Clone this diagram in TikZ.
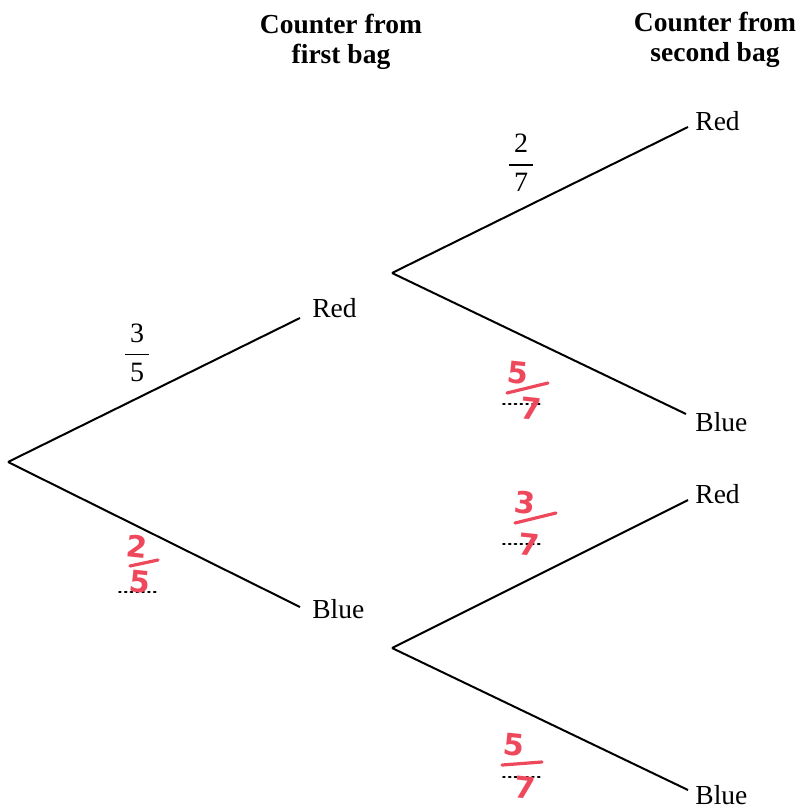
\documentclass[tikz,border=0pt]{standalone}
\usepackage{amsmath}
\usepackage{fontspec}
\setmainfont{Liberation Serif}
\newfontfamily\handfont{DejaVu Sans}
\begin{document}
\begin{tikzpicture}[x=0.5pt,y=-0.5pt,
  branch/.style={line width=1pt},
  lbl/.style={anchor=west,inner sep=0pt,font=\fontsize{13.75}{16}\selectfont},
  head/.style={align=center,inner sep=0pt,font=\fontsize{13.75}{15}\selectfont\bfseries},
  frac/.style={inner sep=0pt,font=\fontsize{14}{16}\selectfont},
  hand/.style={inner sep=0pt,text=handred,font=\fontsize{15}{16}\selectfont\handfont\bfseries},
  handbar/.style={draw=handred,line width=1.6pt,line cap=round},
  dots/.style={line width=0.9pt,dash pattern=on 0.9pt off 2pt,line cap=round}]
\definecolor{handred}{RGB}{238,72,92}
\useasboundingbox (0,0) rectangle (800,808);
% headers
\node[head] (h1) at (341,42) {Counter from\\first bag};
\node[head] (h2) at (715,40) {Counter from\\second bag};
% branch points
\coordinate (root) at (8,462);
\coordinate (r1) at (300,318);
\coordinate (b1) at (300,607);
\coordinate (f1) at (392,273);
\coordinate (f2) at (392,648);
\coordinate (rr) at (688,127);
\coordinate (rb) at (686,414);
\coordinate (br) at (688,500);
\coordinate (bb) at (688,790);
% labels
\node[lbl] (red1) at (312,308) {Red};
\node[lbl] (blue1) at (312,609) {Blue};
\node[lbl] (red2) at (695,121) {Red};
\node[lbl] (blue2) at (695,422) {Blue};
\node[lbl] (red3) at (695,494) {Red};
\node[lbl] (blue3) at (695,795) {Blue};
% branches
\draw[branch] (root) -- (r1);
\draw[branch] (root) -- (b1);
\draw[branch] (f1) -- (rr);
\draw[branch] (f1) -- (rb);
\draw[branch] (f2) -- (br);
\draw[branch] (f2) -- (bb);
% printed fractions
\node[frac] (p1) at (137,353) {$\dfrac{\hspace{2.5pt}\mbox{3}\hspace{2.5pt}}{\mbox{5}}$};
\node[frac] (p2) at (521,163) {$\dfrac{\hspace{2.5pt}\mbox{2}\hspace{2.5pt}}{\mbox{7}}$};
% answer lines
\coordinate (d1a) at (119,592); \coordinate (d1b) at (158,592);
\coordinate (d2a) at (503,404); \coordinate (d2b) at (541,404);
\coordinate (d3a) at (503,544); \coordinate (d3b) at (541,544);
\coordinate (d4a) at (503,777); \coordinate (d4b) at (541,777);
\draw[dots] (d1a) -- (d1b);
\draw[dots] (d2a) -- (d2b);
\draw[dots] (d3a) -- (d3b);
\draw[dots] (d4a) -- (d4b);
% handwritten answers: 2/5
\node[hand,rotate=-6] (a1n) at (137,547) {2};
\node[hand,rotate=-6] (a1d) at (140,582) {5};
\coordinate (a1l) at (130,566); \coordinate (a1r) at (158,560);
\draw[handbar] (a1l) -- (a1r);
% 5/7 upper
\node[hand,rotate=-6] (a2n) at (518,373) {5};
\node[hand,rotate=-6] (a2d) at (531,409) {7};
\coordinate (a2l) at (507,393); \coordinate (a2r) at (548,383);
\draw[handbar] (a2l) -- (a2r);
% 3/7
\node[hand,rotate=-6] (a3n) at (525,503) {3};
\node[hand,rotate=-6] (a3d) at (529,545) {7};
\coordinate (a3l) at (515,523); \coordinate (a3r) at (556,513);
\draw[handbar] (a3l) -- (a3r);
% 5/7 lower
\node[hand,rotate=-6] (a4n) at (514,745) {5};
\node[hand,rotate=-6] (a4d) at (525,788) {7};
\coordinate (a4l) at (502,765); \coordinate (a4r) at (542,762);
\draw[handbar] (a4l) -- (a4r);
\end{tikzpicture}
\end{document}
